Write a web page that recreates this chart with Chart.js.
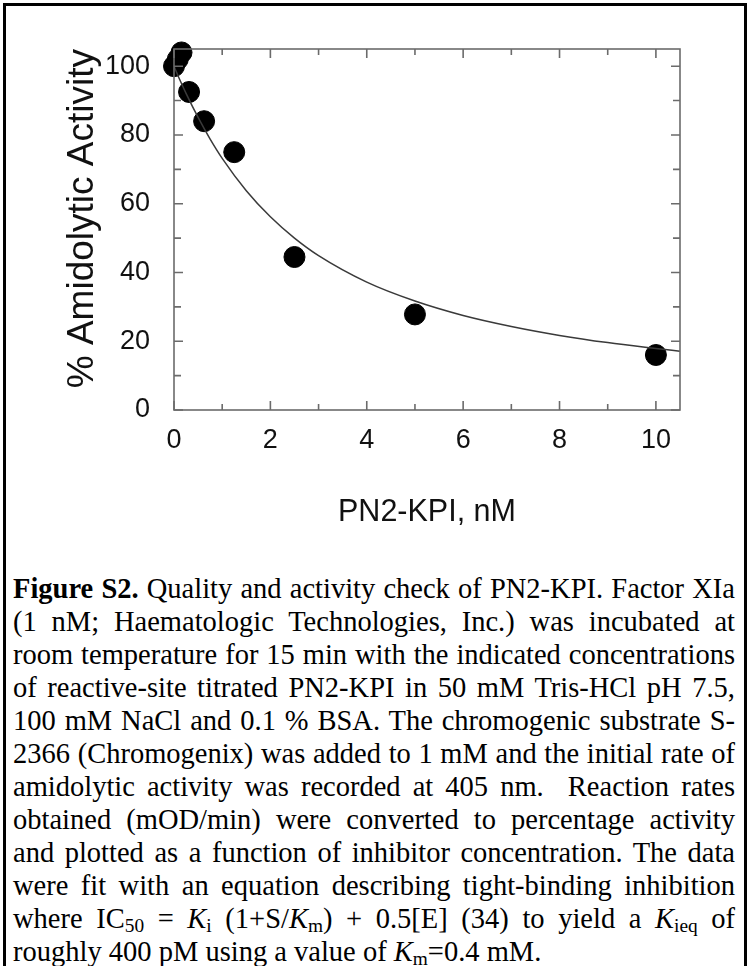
<!DOCTYPE html>
<html>
<head>
<meta charset="utf-8">
<title>Figure S2</title>
<script src="https://cdn.jsdelivr.net/npm/chart.js@4.4.1/dist/chart.umd.min.js"></script>
<style>
  html, body { margin: 0; padding: 0; background: #fff; }
  body { width: 747px; height: 966px; position: relative; overflow: hidden; }
  #frame {
    position: absolute; left: 3px; top: 3px; width: 738px; height: 990px;
    border: 3px solid #000;
  }
  #chartBox { position: absolute; left: 0; top: 0; width: 747px; height: 560px; }
  #caption {
    position: absolute; left: 13px; top: 572px; width: 722px;
    font-family: "Liberation Serif", "Times New Roman", serif;
    font-size: 28.5px; line-height: 33px; color: #000;
  }
  #caption .ln { text-align: justify; text-align-last: justify; white-space: nowrap; }
  #caption .ln.last { text-align: left; text-align-last: left; }
  sub { font-size: 0.68em; line-height: 0; vertical-align: -0.22em; }
</style>
</head>
<body>
<div id="frame"></div>
<div id="chartBox"><canvas id="chart"></canvas></div>

<div id="caption">
  <div class="ln"><b>Figure S2.</b> Quality and activity check of PN2-KPI. Factor XIa</div>
  <div class="ln">(1 nM; Haematologic Technologies, Inc.) was incubated at</div>
  <div class="ln">room temperature for 15 min with the indicated concentrations</div>
  <div class="ln">of reactive-site titrated PN2-KPI in 50 mM Tris-HCl pH 7.5,</div>
  <div class="ln">100 mM NaCl and 0.1 % BSA. The chromogenic substrate S-</div>
  <div class="ln">2366 (Chromogenix) was added to 1 mM and the initial rate of</div>
  <div class="ln">amidolytic activity was recorded at 405 nm.&nbsp; Reaction rates</div>
  <div class="ln">obtained (mOD/min) were converted to percentage activity</div>
  <div class="ln">and plotted as a function of inhibitor concentration. The data</div>
  <div class="ln">were fit with an equation describing tight-binding inhibition</div>
  <div class="ln">where IC<sub>50</sub> = <i>K</i><sub>i</sub> (1+S/<i>K</i><sub>m</sub>) + 0.5[E] (34) to yield a <i>K</i><sub>ieq</sub> of</div>
  <div class="ln last">roughly 400 pM using a value of <i>K</i><sub>m</sub>=0.4 mM.</div>
</div>

<script>
// ==============================
// Data
// ==============================

// measured points: PN2-KPI (nM) vs % amidolytic activity
const concentration = [0, 0.078, 0.156, 0.3125, 0.625, 1.25, 2.5, 5, 10];
const activity = [100, 102, 104, 92.5, 84, 75, 44.5, 27.8, 16];

// fitted tight-binding curve, sampled along the drawn line
const fitConcentration = [0, 0.125, 0.25, 0.5, 0.75, 1, 1.5, 2, 2.5, 3, 4, 5, 6, 7, 8, 9, 10, 10.5];
const fitActivity = [100, 95.9, 92.1, 85.1, 78.8, 73.2, 63.8, 56.2, 50, 44.9, 37.2, 31.7, 27.5, 24.3, 21.7, 19.6, 17.9, 17.1];

// axis ticks
const xTickLabels = [0, 2, 4, 6, 8, 10];
const yTickLabels = [0, 20, 40, 60, 80, 100];

// ==============================
// Box + inward ticks on all four sides
// ==============================

const axisColor = "#6b6b6b";
const sans = "'Liberation Sans', Arial, sans-serif";

const boxTicks = {
    id: "boxTicks",
    afterDatasetsDraw(chart) {
        const ctx = chart.ctx;
        const area = chart.chartArea;
        const xs = chart.scales.x;
        const ys = chart.scales.y;

        ctx.save();
        ctx.strokeStyle = axisColor;
        ctx.lineWidth = 1.6;
        ctx.strokeRect(area.left, area.top, area.right - area.left, area.bottom - area.top);

        // x ticks every 1, longer where labelled
        for (let v = 0; v <= 10; v++) {
            const px = xs.getPixelForValue(v);
            const len = xTickLabels.includes(v) ? 9 : 6;
            ctx.beginPath();
            ctx.moveTo(px, area.bottom);
            ctx.lineTo(px, area.bottom - len);
            ctx.moveTo(px, area.top);
            ctx.lineTo(px, area.top + len);
            ctx.stroke();
        }

        // y ticks every 10
        for (let v = 0; v <= 100; v += 10) {
            const py = ys.getPixelForValue(v);
            const len = yTickLabels.includes(v) ? 9 : 7;
            ctx.beginPath();
            ctx.moveTo(area.left, py);
            ctx.lineTo(area.left + len, py);
            ctx.moveTo(area.right, py);
            ctx.lineTo(area.right - len, py);
            ctx.stroke();
        }
        ctx.restore();
    }
};

// ==============================
// Chart
// ==============================

const fitPoints = fitConcentration.map((x, i) => ({ x: x, y: fitActivity[i] }));
const dataPoints = concentration.map((x, i) => ({ x: x, y: activity[i] }));

new Chart(document.getElementById("chart"), {
    type: "scatter",
    data: {
        datasets: [
            {
                label: "Fit",
                data: fitPoints,
                showLine: true,
                borderColor: "#3a3a3a",
                borderWidth: 1.5,
                pointRadius: 0,
                tension: 0.4,
                cubicInterpolationMode: "monotone",
                fill: false
            },
            {
                label: "Activity",
                data: dataPoints,
                backgroundColor: "#000",
                borderColor: "#000",
                pointRadius: 10.5,
                pointHoverRadius: 10.5,
                clip: false
            }
        ]
    },
    options: {
        responsive: true,
        maintainAspectRatio: false,
        animation: false,
        layout: {
            padding: { left: 0, top: 49, right: 67, bottom: 0 }
        },
        plugins: {
            legend: { display: false },
            tooltip: { enabled: false }
        },
        scales: {
            x: {
                type: "linear",
                min: 0,
                max: 10.5,
                afterFit: scale => { scale.height = 150; },
                afterBuildTicks: scale => {
                    scale.ticks = xTickLabels.map(v => ({ value: v }));
                },
                grid: { display: false, drawTicks: false },
                border: { display: false },
                ticks: {
                    padding: 14,
                    color: "#111",
                    font: { family: sans, size: 27 }
                },
                title: {
                    display: true,
                    text: "PN2-KPI, nM",
                    color: "#111",
                    padding: { top: 0, bottom: 29 },
                    font: { family: sans, size: 30.5 }
                }
            },
            y: {
                type: "linear",
                min: 0,
                max: 105,
                afterFit: scale => { scale.width = 174; },
                afterBuildTicks: scale => {
                    scale.ticks = yTickLabels.map(v => ({ value: v }));
                },
                grid: { display: false, drawTicks: false },
                border: { display: false },
                ticks: {
                    padding: 24,
                    color: "#111",
                    font: { family: sans, size: 27 }
                },
                title: {
                    display: true,
                    text: "% Amidolytic Activity",
                    color: "#111",
                    align: "end",
                    padding: { top: 61, bottom: 0 },
                    font: { family: sans, size: 37 }
                }
            }
        }
    },
    plugins: [boxTicks]
});
</script>
</body>
</html>
